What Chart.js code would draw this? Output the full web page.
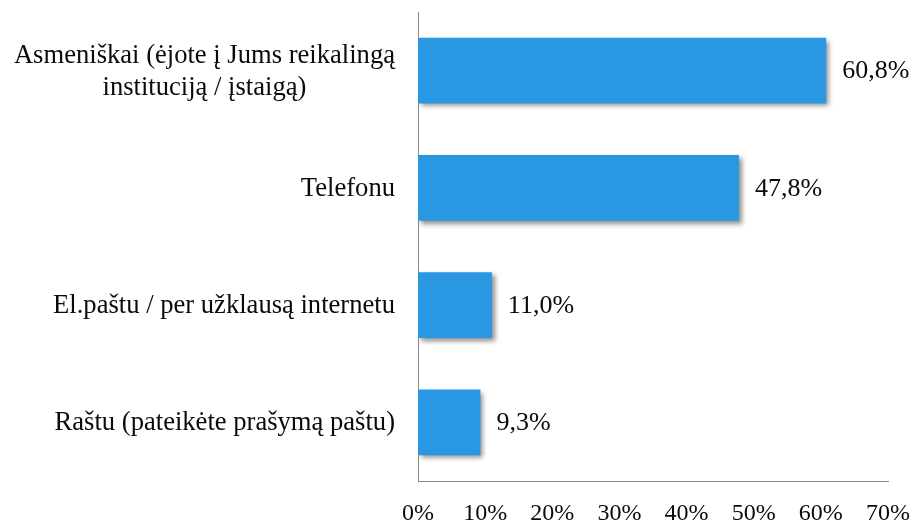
<!DOCTYPE html>
<html>
<head>
<meta charset="utf-8">
<script src="https://cdn.jsdelivr.net/npm/chart.js@4"></script>
<style>
  html, body { margin: 0; padding: 0; background: #fff; }
  #wrap { width: 913px; height: 526px; }
</style>
</head>
<body>
<div id="wrap"><canvas id="chart"></canvas></div>
<script>
// duomenys
const categories = [
    ['Asmeniškai (ėjote į Jums reikalingą', 'instituciją / įstaigą)'],
    ['Telefonu'],
    ['El.paštu / per užklausą internetu'],
    ['Raštu (pateikėte prašymą paštu)']
];
const values = [60.8, 47.8, 11.0, 9.3];
const xTicks = [0, 10, 20, 30, 40, 50, 60, 70];

const FONT = '"Liberation Serif", "Times New Roman", serif';
const fmt = v => v.toFixed(1).replace('.', ',') + '%';

// šešėlis stulpeliams
const barShadow = {
    id: 'barShadow',
    beforeDatasetsDraw(chart) {
        const ctx = chart.ctx;
        ctx.save();
        ctx.shadowColor = 'rgba(0,0,0,0.45)';
        ctx.shadowBlur = 5;
        ctx.shadowOffsetX = 3;
        ctx.shadowOffsetY = 3;
    },
    afterDatasetsDraw(chart) {
        chart.ctx.restore();
    }
};

// reikšmės prie stulpelių ir kategorijų pavadinimai
const labelsPlugin = {
    id: 'labelsPlugin',
    afterDraw(chart) {
        const ctx = chart.ctx;
        const meta = chart.getDatasetMeta(0);
        ctx.save();
        ctx.fillStyle = '#0a0a0a';
        ctx.textBaseline = 'middle';

        ctx.font = '26px ' + FONT;
        meta.data.forEach((bar, i) => {
            ctx.textAlign = 'left';
            ctx.fillText(fmt(values[i]), bar.x + 16, bar.y + 1);
        });

        ctx.font = '26.6px ' + FONT;
        const yScale = chart.scales.y;
        const rightEdge = chart.chartArea.left - 23;
        const lineH = 32;
        categories.forEach((lines, i) => {
            const y = yScale.getPixelForTick(i);
            const w = Math.max(...lines.map(l => ctx.measureText(l).width));
            const cx = rightEdge - w / 2;
            ctx.textAlign = 'center';
            lines.forEach((l, j) => {
                ctx.fillText(l, cx, y + 1 + (j - (lines.length - 1) / 2) * lineH);
            });
        });
        ctx.restore();
    }
};

new Chart(document.getElementById('chart'), {
    type: 'bar',
    data: {
        labels: categories.map(c => c.join(' ')),
        datasets: [{
            data: values,
            backgroundColor: '#2997E2',
            borderWidth: 0,
            categoryPercentage: 1,
            barPercentage: 0.56
        }]
    },
    options: {
        indexAxis: 'y',
        responsive: true,
        maintainAspectRatio: false,
        animation: false,
        layout: { padding: { top: 12, right: 25, bottom: 0, left: 0 } },
        plugins: {
            legend: { display: false },
            tooltip: { enabled: false }
        },
        scales: {
            x: {
                min: 0,
                max: 70,
                afterBuildTicks: s => { s.ticks = xTicks.map(v => ({ value: v })); },
                afterFit: s => { s.height = 45; s.paddingRight = 0; s.paddingLeft = 0; },
                grid: { display: false },
                border: { color: '#8a8a8a', width: 1 },
                ticks: {
                    padding: 10,
                    color: '#0a0a0a',
                    font: { family: FONT, size: 24 },
                    callback: v => v + '%'
                }
            },
            y: {
                grid: { display: false },
                border: { color: '#8a8a8a', width: 1 },
                ticks: { display: false },
                afterFit: s => { s.width = 418; }
            }
        }
    },
    plugins: [barShadow, labelsPlugin]
});
</script>
</body>
</html>
